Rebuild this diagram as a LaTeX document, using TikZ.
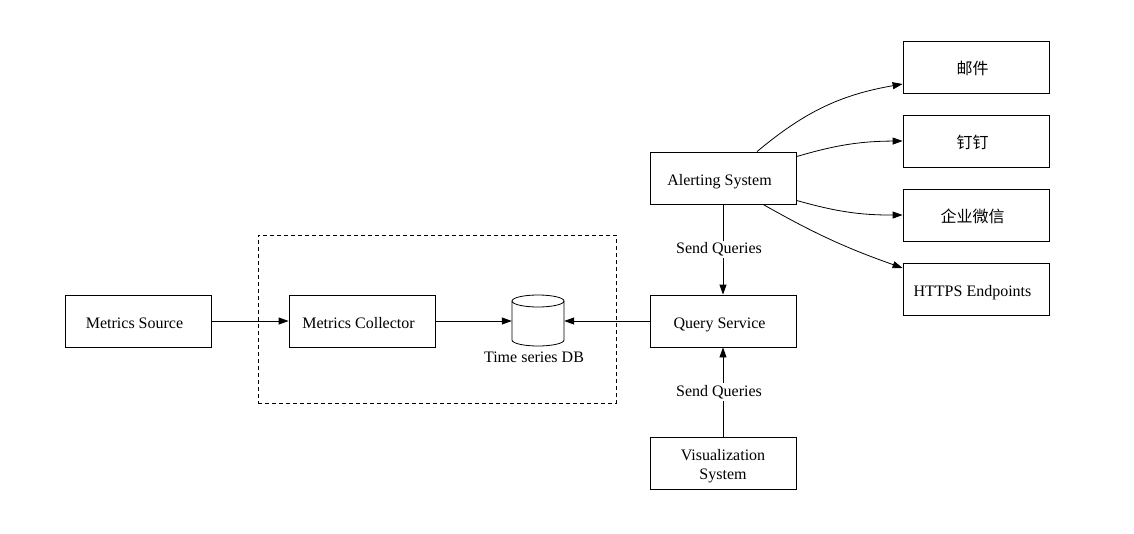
\documentclass[tikz,border=0pt]{standalone}
\usepackage{fontspec}
\setmainfont{Liberation Serif}
\newfontfamily\cjkfont{Noto Sans CJK SC}
\usetikzlibrary{arrows.meta}

\tikzset{
  block/.style={draw, line width=0.8pt, minimum width=146pt, minimum height=52pt,
    inner sep=0pt, align=center, font=\fontsize{16}{19}\selectfont},
  box/.style={block, text height=14pt, text depth=0pt,
    execute at begin node=\hspace*{-7pt}},
  flow/.style={-{Triangle[length=10pt,width=7pt]}, line width=0.8pt},
  qlabel/.style={fill=white, inner sep=2pt, xshift=-4pt, font=\fontsize{16}{19}\selectfont}
}

\begin{document}
\begin{tikzpicture}[x=1pt,y=-1pt]
    \useasboundingbox (0,0) rectangle (1134,533);

    % storage group
    \node[draw, dashed, dash pattern=on 4pt off 3pt, line width=0.8pt,
      minimum width=358pt,
      minimum height=168pt] (storage) at (437,319) {};

    % sources and storage
    \node[box] (source) at (138,321) {Metrics Source};
    \node[box] (collector) at (362,321) {Metrics Collector};

    % Time series DB
    \node[minimum width=52pt,
      minimum height=51pt,
      inner sep=0pt] (tsdb) at (538,321) {};
    \draw[line width=0.8pt] (538,301) ellipse [x radius=26pt, y radius=6pt];
    \draw[line width=0.8pt] (512,301) -- (512,340)
      arc[start angle=180, end angle=360, x radius=26pt, y radius=6pt] -- (564,301);
    \node[font=\fontsize{16}{19}\selectfont] (tsdbname) at (534,357) {Time series DB};

    % services
    \node[box] (query) at (723,321) {Query Service};
    \node[box] (alert) at (723,178) {Alerting System};
    \node[block, text height=36pt] (visual) at (723,463) {Visualization\\System};

    % notification channels
    \node[box] (mail) at (976,67) {\cjkfont 邮件};
    \node[box] (dingtalk) at (976,141) {\cjkfont 钉钉};
    \node[box] (wechat) at (976,215) {\cjkfont 企业微信};
    \node[box] (https) at (976,289) {HTTPS Endpoints};

    % Draw Arrows
    \draw[flow] (source) -- (collector);
    \draw[flow] (collector) -- (tsdb);
    \draw[flow] (query) -- (tsdb);
    \draw[flow] (alert) -- node[qlabel] {Send Queries} (query);
    \draw[flow] (visual) -- node[qlabel] {Send Queries} (query);
    \draw[flow] ([xshift=34pt]alert.north) to[bend left=15] ([yshift=-17pt]mail.west);
    \draw[flow] ([yshift=-5pt]alert.north east) to[bend left=8] (dingtalk.west);
    \draw[flow] ([yshift=4pt]alert.south east) to[bend right=8] (wechat.west);
    \draw[flow] ([xshift=40pt]alert.south) to[bend right=5] ([yshift=21pt]https.west);

\end{tikzpicture}
\end{document}
